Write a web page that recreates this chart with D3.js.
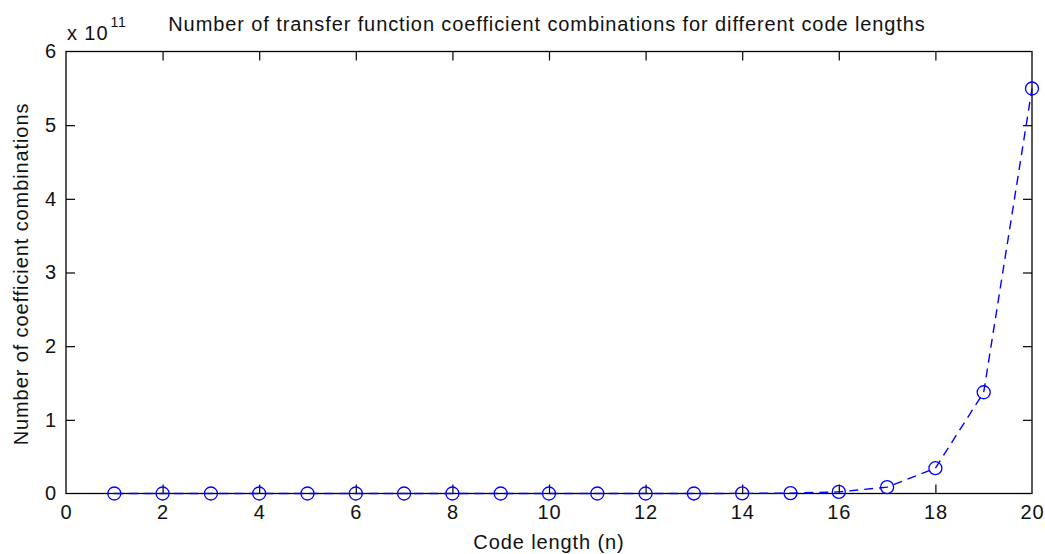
<!DOCTYPE html>
<html><head><meta charset="utf-8">
<script src="https://cdn.jsdelivr.net/npm/d3@7"></script>
<style>
html,body{margin:0;padding:0;background:#fff;}
svg{display:block;font-family:"Liberation Sans",Arial,sans-serif;}
</style></head>
<body>
<svg id="c" width="1045" height="554"></svg>
<script>
const codeLengths = [1,2,3,4,5,6,7,8,9,10,11,12,13,14,15,16,17,18,19,20];
const combinations = [2,8,32,128,512,2048,8192,32768,131072,524288,2097152,8388608,33554432,134217728,536870912,2147483648,8589934592,34359738368,137438953472,549755813888];
const xTicks = [0,2,4,6,8,10,12,14,16,18,20];
const yTicks = [0,1,2,3,4,5,6];
const yExponent = 11;
const titleText = "Number of transfer function coefficient combinations for different code lengths";
const xLabel = "Code length (n)";
const yLabel = "Number of coefficient combinations";

const svg = d3.select("#c");
const L = 66, R = 1032, T = 51.5, B = 493.5;
const x = d3.scaleLinear().domain([0,20]).range([L,R]);
const y = d3.scaleLinear().domain([0,6]).range([B,T]);
const scale = Math.pow(10, yExponent);
const fs = 20, ls = "0.9px";

// axes with inward ticks on all sides
const tl = 9;
const gx = svg.append("g").attr("transform",`translate(0,${B})`)
  .call(d3.axisBottom(x).tickValues(xTicks).tickSize(-tl).tickPadding(11).tickFormat(d3.format("d")));
const gxt = svg.append("g").attr("transform",`translate(0,${T})`)
  .call(d3.axisTop(x).tickValues(xTicks).tickSize(-tl).tickFormat(""));
const gy = svg.append("g").attr("transform",`translate(${L},0)`)
  .call(d3.axisLeft(y).tickValues(yTicks).tickSize(-tl).tickPadding(9).tickFormat(d3.format("d")));
const gyr = svg.append("g").attr("transform",`translate(${R},0)`)
  .call(d3.axisRight(y).tickValues(yTicks).tickSize(-tl).tickFormat(""));
[gx,gxt,gy,gyr].forEach(g=>{
  g.select(".domain").remove();
  g.selectAll(".tick line").attr("stroke","#000").attr("stroke-width",1.2);
  g.selectAll("text").attr("font-size",fs).attr("fill","#111").attr("font-family","Liberation Sans, Arial, sans-serif").style("letter-spacing",ls);
});
gx.selectAll(".tick").filter(d=>d===0||d===20).select("line").remove();
gxt.selectAll(".tick").filter(d=>d===0||d===20).select("line").remove();
gy.selectAll(".tick").filter(d=>d===0||d===6).select("line").remove();
gyr.selectAll(".tick").filter(d=>d===0||d===6).select("line").remove();

// box
svg.append("rect").attr("x",L).attr("y",T).attr("width",R-L).attr("height",B-T)
  .attr("fill","none").attr("stroke","#000").attr("stroke-width",1.3);

// data line
const pts = codeLengths.map((n,i)=>[x(n), y(combinations[i]/scale)]);
svg.append("path").attr("d", d3.line()(pts))
  .attr("fill","none").attr("stroke","#0000ff").attr("stroke-width",1.4).attr("stroke-dasharray","9,6");
svg.append("g").selectAll("circle").data(codeLengths).join("circle")
  .attr("cx",(d)=>x(d)).attr("cy",(d,i)=>y(combinations[i]/scale)).attr("r",6.5)
  .attr("fill","none").attr("stroke","#0000ff").attr("stroke-width",1.3);

// texts
svg.append("text").attr("x",547).attr("y",31).attr("text-anchor","middle")
  .attr("font-size",fs).style("letter-spacing",ls).attr("fill","#111").text(titleText);
svg.append("text").attr("x",549).attr("y",549).attr("text-anchor","middle")
  .attr("font-size",fs).style("letter-spacing",ls).attr("fill","#111").text(xLabel);
svg.append("text").attr("transform","translate(28,274) rotate(-90)").attr("text-anchor","middle")
  .attr("font-size",fs).style("letter-spacing",ls).attr("fill","#111").text(yLabel);
const ex = svg.append("text").attr("x",67).attr("y",40).attr("font-size",fs).attr("fill","#111").style("letter-spacing",ls);
ex.append("tspan").text("x 10");
ex.append("tspan").attr("dy",-13).attr("dx",2).attr("font-size",14).text(String(yExponent));
</script>
</body></html>
